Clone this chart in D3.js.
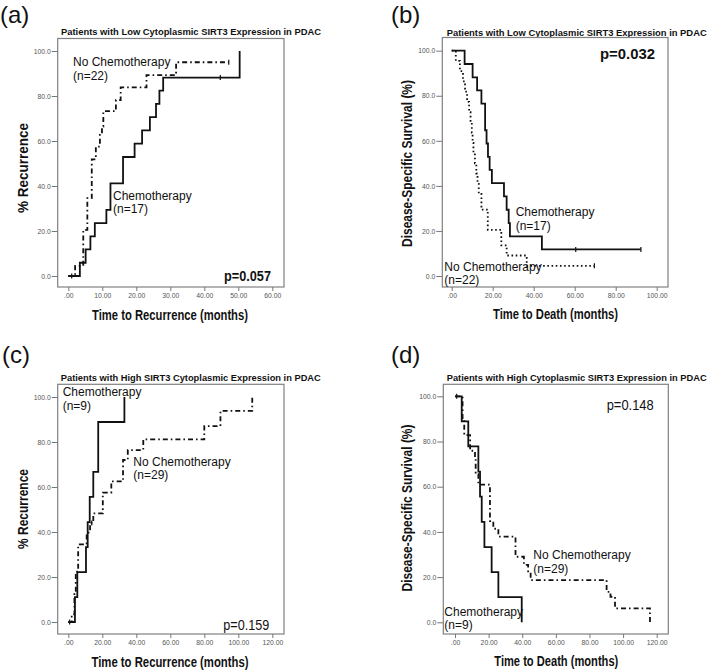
<!DOCTYPE html>
<html>
<head>
<meta charset="utf-8">
<script src="https://cdn.jsdelivr.net/npm/d3@7"></script>
<style>
  body { margin: 0; background: #fff; }
  svg { display: block; font-family: "Liberation Sans", Arial, sans-serif; }
</style>
</head>
<body>
<svg id="chart" width="711" height="671"></svg>
<script>
// Kaplan-Meier steps: [months, percent]
var aChemo = [[0,0],[3.4,5.9],[5.1,11.8],[6.5,17.6],[7.8,23.5],[11.2,29.4],[12.4,41.2],[16.1,52.9],[19.5,58.8],[21.7,64.7],[24,70.6],[25.8,76.5],[26.8,82.4],[27.9,88.2],[50.4,100]];
var aChemoCensor = [44.7];
var aNoChemo = [[0,0],[2,4.5],[4.4,20.5],[5.6,34.6],[6.9,51.8],[8.1,57.5],[9.3,62.7],[9.9,66.4],[10.3,73.3],[14,78.2],[15.4,83.8],[23,89.3],[31.7,95],[47.2,95]];
var aNoChemoCensor = [1, 47.2];

var bChemo = [[0,100],[6.3,94.1],[10.2,88.2],[12.4,82.4],[14.5,76.5],[16.3,64.7],[17,58.8],[17.7,52.9],[18.5,47.1],[19.6,41.2],[25.5,35.3],[26.8,29.4],[27.8,23.5],[28.4,17.6],[44,11.8],[92.3,11.8]];
var bChemoCensor = [60.5, 92.3];
var bNoChemo = [[0,100],[2,95.5],[4,90.9],[5.5,86.4],[6.5,81.8],[7.5,77.3],[8.5,72.7],[9.2,68.2],[9.8,63.6],[10.2,59.1],[10.6,54.5],[11.3,50],[12,45.5],[12.6,40.9],[13.2,36.4],[14.5,29.5],[17.6,20.5],[24.2,13.6],[26.8,9.1],[36.6,4.5],[69.6,4.5]];
var bNoChemoCensor = [69.6];

var cChemo = [[0,0],[3.9,11.1],[5.3,22.2],[10.4,33.3],[11.4,44.4],[12.6,55.6],[14.7,66.7],[17.6,88.9],[33,100]];
var cChemoCensor = [0.8];
var cNoChemo = [[0,0],[2,3.4],[3.6,13.8],[4.4,22.4],[5.8,34.5],[10.8,39.7],[12.8,44],[14.7,48.3],[20.3,57.5],[25.3,62.5],[32.2,72],[35,76.4],[44.1,81.2],[80,87.1],[89.5,93.8],[108.2,100]];
var cNoChemoCensor = [13.8];

var dChemo = [[0,100],[4,88.9],[7.9,77.8],[13.9,66.7],[14.9,55.6],[15.9,44.4],[17.5,33.3],[21.8,22.2],[25.8,11.1],[39.7,0]];
var dChemoCensor = [1];
var dNoChemo = [[0,100],[4.5,89.7],[5.5,82.8],[9,75.9],[11.9,72.4],[12.3,65.5],[13.9,60.9],[20.8,44.8],[22.8,41.4],[25.8,37.9],[36,29],[41,25.4],[43.5,22],[45,18.7],[90.2,13.5],[92.5,11.3],[95.2,6.2],[116,0]];
var dNoChemoCensor = [];

var yTicks = [0,20,40,60,80,100];
var xTicksA = [0,10,20,30,40,50,60];
var xTicksB = [0,20,40,60,80,100];
var xTicksCD = [0,20,40,60,80,100,120];

var svg = d3.select("#chart");
var font = "'Liberation Sans', Arial, sans-serif";

var panels = [
  {tag:"(a)", tagX:0, tagY:23, title:"Patients with Low Cytoplasmic SIRT3 Expression in PDAC", titleX:191, titleY:35,
   frame:[57.7,38.5,226.3,248.5], xr:[68.3,272.3], xd:[0,60], yr:[276,51], xt:xTicksA,
   xTitle:"Time to Recurrence (months)", xTitleX:170, xTitleY:319.5, xTitleLen:156,
   yTitle:"% Recurrence", yTitleX:28, yTitleY:168, yTitleLen:90,
   solid:aChemo, solidC:aChemoCensor, dash:aNoChemo, dashC:aNoChemoCensor, dotted:false,
   labels:[["No Chemotherapy",73,66],["(n=22)",73,79.5],["Chemotherapy",113,199.5],["(n=17)",113,213]],
   p:"p=0.057", pX:224, pY:281, pBold:true, pLen:47},
  {tag:"(b)", tagX:391, tagY:23, title:"Patients with Low Cytoplasmic SIRT3 Expression in PDAC", titleX:576.7, titleY:35.5,
   frame:[442.3,37.5,225.7,249.5], xr:[451.7,656.7], xd:[0,100], yr:[276,50.7], xt:xTicksB,
   xTitle:"Time to Death (months)", xTitleX:555.5, xTitleY:319, xTitleLen:125,
   yTitle:"Disease-Specific Survival (%)", yTitleX:412, yTitleY:163.5, yTitleLen:167,
   solid:bChemo, solidC:bChemoCensor, dash:bNoChemo, dashC:bNoChemoCensor, dotted:true,
   labels:[["Chemotherapy",515.7,216],["(n=17)",515.7,229.5],["No Chemotherapy",444.3,270.7],["(n=22)",444.3,284.2]],
   p:"p=0.032", pX:600, pY:59.3, pBold:true, pLen:55},
  {tag:"(c)", tagX:2, tagY:363, title:"Patients with High SIRT3 Cytoplasmic Expression in PDAC", titleX:190.8, titleY:380.7,
   frame:[57.7,384.3,226.3,249.7], xr:[68.3,272.3], xd:[0,120], yr:[622,397], xt:xTicksCD,
   xTitle:"Time to Recurrence (months)", xTitleX:170, xTitleY:666.5, xTitleLen:157,
   yTitle:"% Recurrence", yTitleX:28, yTitleY:509, yTitleLen:80,
   solid:cChemo, solidC:cChemoCensor, dash:cNoChemo, dashC:cNoChemoCensor, dotted:false,
   labels:[["Chemotherapy",62.7,396],["(n=9)",62.7,409.5],["No Chemotherapy",133.3,465.7],["(n=29)",133.3,479.2]],
   p:"p=0.159", pX:223.3, pY:630, pBold:false, pLen:46},
  {tag:"(d)", tagX:391, tagY:362.5, title:"Patients with High Cytoplasmic SIRT3 Expression in PDAC", titleX:576.7, titleY:380.7,
   frame:[443.3,384.3,225,249.7], xr:[455,656.7], xd:[0,120], yr:[622.3,396.3], xt:xTicksCD,
   xTitle:"Time to Death (months)", xTitleX:556.3, xTitleY:666, xTitleLen:124,
   yTitle:"Disease-Specific Survival (%)", yTitleX:412, yTitleY:508, yTitleLen:167,
   solid:dChemo, solidC:dChemoCensor, dash:dNoChemo, dashC:dNoChemoCensor, dotted:false,
   labels:[["No Chemotherapy",533.3,559],["(n=29)",533.3,572.5],["Chemotherapy",444.3,615.7],["(n=9)",444.3,629.2]],
   p:"p=0.148", pX:606.7, pY:410, pBold:false, pLen:47}
];

function valueAt(steps, t){
  var v = steps[0][1];
  for (var i = 0; i < steps.length; i++){
    if (steps[i][0] <= t) v = steps[i][1];
  }
  return v;
}

function drawCurve(g, x, y, steps, censors, dash){
  var line = d3.line()
    .x(function(d){ return x(d[0]); })
    .y(function(d){ return y(d[1]); })
    .curve(d3.curveStepAfter);
  g.append("path")
    .datum(steps)
    .attr("d", line)
    .attr("fill", "none")
    .attr("stroke", "#111")
    .attr("stroke-width", 1.8)
    .attr("stroke-dasharray", dash);
  g.selectAll(null)
    .data(censors)
    .enter().append("line")
    .attr("x1", function(d){ return x(d); })
    .attr("x2", function(d){ return x(d); })
    .attr("y1", function(d){ return y(valueAt(steps, d)) - 2.5; })
    .attr("y2", function(d){ return y(valueAt(steps, d)) + 2.5; })
    .attr("stroke", "#111")
    .attr("stroke-width", 1.2);
}

panels.forEach(function(p){
  var g = svg.append("g");
  var x = d3.scaleLinear().domain(p.xd).range(p.xr);
  var y = d3.scaleLinear().domain([0,100]).range(p.yr);
  var f = p.frame;

  g.append("text").attr("x", p.tagX).attr("y", p.tagY)
    .attr("font-size", 24).attr("fill", "#111").text(p.tag);

  g.append("text").attr("x", p.titleX).attr("y", p.titleY)
    .attr("text-anchor", "middle").attr("font-size", 9.5).attr("font-weight", "bold")
    .attr("textLength", 260).attr("lengthAdjust", "spacingAndGlyphs")
    .attr("fill", "#111").text(p.title);

  g.append("rect")
    .attr("x", f[0]).attr("y", f[1]).attr("width", f[2]).attr("height", f[3])
    .attr("fill", "none").attr("stroke", "#808080").attr("stroke-width", 1.2);

  var yAxis = g.append("g").attr("transform", "translate(" + f[0] + ",0)")
    .call(d3.axisLeft(y).tickValues(yTicks).tickSize(6).tickPadding(1)
      .tickFormat(function(d){ return d.toFixed(1); }));
  var xAxis = g.append("g").attr("transform", "translate(0," + (f[1] + f[3]) + ")")
    .call(d3.axisBottom(x).tickValues(p.xt).tickSize(4).tickPadding(2)
      .tickFormat(function(d){ return d === 0 ? ".00" : d.toFixed(2); }));
  [yAxis, xAxis].forEach(function(a){
    a.select(".domain").remove();
    a.selectAll(".tick line").attr("stroke", "#777");
    a.selectAll(".tick text").attr("fill", "#555").attr("font-size", 6.8)
      .attr("font-family", font);
  });

  g.append("text").attr("x", p.xTitleX).attr("y", p.xTitleY)
    .attr("text-anchor", "middle").attr("font-size", 14).attr("font-weight", "bold")
    .attr("textLength", p.xTitleLen).attr("lengthAdjust", "spacingAndGlyphs")
    .attr("fill", "#111").text(p.xTitle);

  g.append("text")
    .attr("transform", "translate(" + p.yTitleX + "," + p.yTitleY + ") rotate(-90)")
    .attr("text-anchor", "middle").attr("font-size", 14).attr("font-weight", "bold")
    .attr("textLength", p.yTitleLen).attr("lengthAdjust", "spacingAndGlyphs")
    .attr("fill", "#111").text(p.yTitle);

  drawCurve(g, x, y, p.dash, p.dashC, p.dotted ? "1.6,2.6" : "5,3,1.6,3");
  drawCurve(g, x, y, p.solid, p.solidC, null);

  g.selectAll(null)
    .data(p.labels)
    .enter().append("text")
    .attr("x", function(d){ return d[1]; })
    .attr("y", function(d){ return d[2]; })
    .attr("font-size", 12).attr("fill", "#111")
    .text(function(d){ return d[0]; });

  g.append("text").attr("x", p.pX).attr("y", p.pY)
    .attr("font-size", 14.5).attr("font-weight", p.pBold ? "bold" : "normal")
    .attr("textLength", p.pLen).attr("lengthAdjust", "spacingAndGlyphs")
    .attr("fill", "#111").text(p.p);
});
</script>
</body>
</html>
